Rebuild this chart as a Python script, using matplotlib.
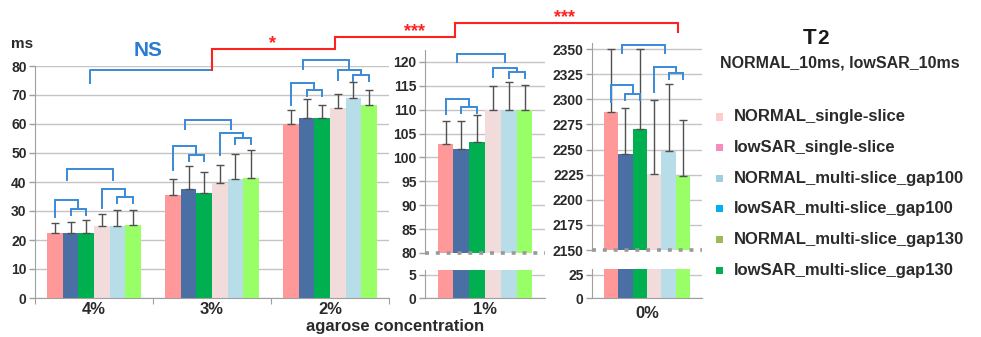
import numpy as np
import matplotlib
matplotlib.use('Agg')
import matplotlib.pyplot as plt
from matplotlib.patches import Rectangle

plt.rcParams['font.family'] = ['Liberation Sans', 'DejaVu Sans']
plt.rcParams['font.weight'] = 'bold'

# --- data ---
groups_left = ['4%', '3%', '2%']
means_left = [[22.3, 22.5, 22.3, 25.0, 25.0, 25.3],
              [35.5, 37.7, 36.2, 39.5, 41.0, 41.3],
              [60.0, 62.0, 62.0, 65.5, 69.0, 66.5]]
tops_left = [[25.8, 26.2, 26.8, 29.0, 30.3, 30.3],
             [41.0, 45.5, 43.3, 46.0, 49.8, 51.0],
             [64.8, 68.5, 66.5, 70.5, 74.5, 71.8]]
means_1 = [102.8, 101.8, 103.2, 110.0, 110.0, 110.0]
tops_1 = [107.6, 107.6, 108.8, 115.0, 115.8, 115.2]
means_0 = [2287, 2246, 2270, 2226, 2249, 2224]
tops_0 = [2350, 2291, 2350, 2299, 2315, 2279]

# bracket levels per group: small L, mid L, mid L leg, small R, mid R, mid R leg, top, top leg
brackets_left = [[30.7, 33.8, 27.9, 34.8, 37.6, 31.0, 44.5, 40.7],
                 [49.3, 52.4, 44.1, 55.2, 56.9, 49.3, 61.4, 58.3],
                 [71.7, 74.1, 66.6, 76.9, 78.6, 75.2, 82.1, 79.0]]
brackets_1 = [110.5, 112.2, 109.1, 117.9, 118.7, 116.8, 121.7, 120.0]
brackets_0 = [2305, 2314, 2297, 2326, 2332, 2307, 2354, 2346]

bar_colors = ['#ff9999', '#4a6fa5', '#00b050', '#f2dcdb', '#b7dde8', '#99ff66']
legend_labels = ['NORMAL_single-slice', 'lowSAR_single-slice',
                 'NORMAL_multi-slice_gap100', 'lowSAR_multi-slice_gap100',
                 'NORMAL_multi-slice_gap130', 'lowSAR_multi-slice_gap130']
legend_colors = ['#ffcccc', '#f58cbc', '#9ccfe0', '#00b0f0', '#9bbb59', '#00b050']

TXT = '#2a2a2a'
GRID = '#c4c4c4'
SPINE = '#a0a0a0'
BLUE = '#3a8ad8'
RED = '#ff2020'

W, H = 981, 337
fig = plt.figure(figsize=(W / 100, H / 100), dpi=100)


def rect(x0, ytop, x1, ybot):
    return [x0 / W, 1 - ybot / H, (x1 - x0) / W, (ybot - ytop) / H]


GW = 0.79
BW = GW / 6
offs = (np.arange(6) - 2.5) * BW


def style(ax, ticks, ylim, skip_first_grid=False):
    ax.set_ylim(*ylim)
    ax.set_yticks(ticks)
    for t in ticks[1 if skip_first_grid else 0:]:
        ax.axhline(t, color=GRID, lw=1, zorder=0)
    for s in ['top', 'right']:
        ax.spines[s].set_visible(False)
    for s in ['left', 'bottom']:
        ax.spines[s].set_color(SPINE)
    ax.tick_params(axis='y', colors=SPINE, labelcolor=TXT, labelsize=10, length=4, width=1, pad=2)
    ax.tick_params(axis='x', colors=SPINE, labelcolor=TXT, labelsize=12, length=0)


def broken(ax):
    # dotted break line along the bottom of the upper part
    ax.spines['bottom'].set_visible(False)
    ax.axhline(ax.get_ylim()[0], color='#999999', lw=2.6, ls=(0, (1.1, 1.9)),
               clip_on=False, zorder=5, dash_capstyle='butt')


def draw_bars(ax, centers, means, tops, draw_err=True):
    for c, m, tp in zip(centers, means, tops):
        xs = c + offs
        ax.bar(xs, m, width=BW, color=bar_colors, zorder=2)
        if draw_err:
            err = np.array(tp) - np.array(m)
            ax.errorbar(xs, m, yerr=[np.zeros(6), err], fmt='none',
                        ecolor='#505050', elinewidth=1, capsize=3, capthick=1, zorder=3)


def draw_brackets(ax, c, lv, leg):
    x = c + offs
    sL, mL, laL, sR, mR, laR, t, tb = lv
    kw = dict(color=BLUE, lw=1.4, clip_on=False, zorder=4, solid_joinstyle='miter')
    ax.plot([x[1], x[1], x[2], x[2]], [sL - leg, sL, sL, sL - leg], **kw)
    m12 = (x[1] + x[2]) / 2
    ax.plot([x[0], x[0], m12, m12], [laL, mL, mL, sL], **kw)
    ax.plot([x[4], x[4], x[5], x[5]], [sR - leg, sR, sR, sR - leg], **kw)
    m45 = (x[4] + x[5]) / 2
    ax.plot([x[3], x[3], m45, m45], [laR, mR, mR, sR], **kw)
    a = (x[0] + m12) / 2
    b = (x[3] + m45) / 2
    ax.plot([a, a, b, b], [tb, t, t, tb], **kw)
    return a, b


# --- left panel ---
axL = fig.add_axes(rect(35, 66, 389, 298))
style(axL, np.arange(0, 81, 10), (0, 80))
axL.set_xlim(-0.5, 2.5)
draw_bars(axL, range(3), means_left, tops_left)
axL.set_xticks([-0.5, 0.5, 1.5, 2.5])
axL.set_xticklabels([])
axL.tick_params(axis='x', length=4)
axL.set_xticks(range(3), minor=True)
axL.set_xticklabels(groups_left, minor=True)
axL.tick_params(axis='x', which='minor', length=0, labelsize=12, labelcolor=TXT, pad=3)
tops_mid = []
for i in range(3):
    tops_mid.append(draw_brackets(axL, i, brackets_left[i], 2.0))

# --- middle panel (1%) ---
axMt = fig.add_axes(rect(425, 50, 545, 253))
style(axMt, np.arange(80, 121, 5), (80, 122.5), skip_first_grid=True)
axMt.set_xlim(-0.5, 0.5)
axMt.set_xticks([])
draw_bars(axMt, [0], [means_1], [tops_1])
broken(axMt)
draw_brackets(axMt, 0, brackets_1, 1.25)

axMb = fig.add_axes(rect(425, 270, 545, 298))
style(axMb, [0, 5], (0, 6))
axMb.set_xlim(-0.5, 0.5)
draw_bars(axMb, [0], [means_1], [tops_1], draw_err=False)
axMb.set_xticks([0])
axMb.set_xticklabels(['1%'])
axMb.tick_params(axis='x', pad=3)

# --- right panel (0%) ---
axRt = fig.add_axes(rect(592, 43, 702, 250))
style(axRt, np.arange(2150, 2351, 25), (2150, 2356), skip_first_grid=True)
axRt.set_xlim(-0.5, 0.5)
axRt.set_xticks([])
draw_bars(axRt, [0], [means_0], [tops_0])
broken(axRt)
draw_brackets(axRt, 0, brackets_0, 6)

axRb = fig.add_axes(rect(592, 269, 702, 298))
style(axRb, [0, 25], (0, 31))
axRb.set_xlim(-0.5, 0.5)
draw_bars(axRb, [0], [means_0], [tops_0], draw_err=False)
axRb.set_xticks([0])
axRb.set_xticklabels(['0%'])
axRb.tick_params(axis='x', pad=6)

# --- texts ---
fig.text(11 / W, 1 - 44 / H, 'ms', fontsize=11, color=TXT, va='center', ha='left')
fig.text(395 / W, 1 - 327 / H, 'agarose concentration', fontsize=12, color=TXT,
         va='center', ha='center')

# NS bracket and red significance steps (left-axis data coordinates)
x_ns = (tops_mid[0][0] + tops_mid[0][1]) / 2
axL.plot([x_ns, x_ns, 1.0], [74.1, 78.6, 78.6], color=BLUE, lw=1.4, clip_on=False)
axL.text(0.46, 85.5, 'NS', color='#2b7bd0', fontsize=15, ha='center', va='center')
axL.plot([1.0, 1.0, 2.04, 2.04, 3.06, 3.06, 4.95, 4.95],
         [78.6, 85.9, 85.9, 90.0, 90.0, 94.8, 94.8, 91.7],
         color=RED, lw=1.5, clip_on=False, solid_joinstyle='miter')
axL.text(1.51, 87.6, '*', color=RED, fontsize=13, ha='center', va='center')
axL.text(2.72, 91.8, '***', color=RED, fontsize=13, ha='center', va='center')
axL.text(3.99, 96.6, '***', color=RED, fontsize=13, ha='center', va='center')

# legend block
fig.text(810 / W, 1 - 38 / H, 'T', fontsize=16, color='#1a1a1a', ha='center', va='center')
fig.text(823 / W, 1 - 39 / H, '2', fontsize=15, color='#1a1a1a', ha='center', va='center')
fig.text(840 / W, 1 - 63 / H, 'NORMAL_10ms, lowSAR_10ms', fontsize=11.5, color=TXT,
         ha='center', va='center')
for i, (lab, col) in enumerate(zip(legend_labels, legend_colors)):
    yc = 117 + 30.6 * i
    fig.add_artist(Rectangle((716 / W, 1 - (yc + 3.5) / H), 7 / W, 7 / H,
                             transform=fig.transFigure, color=col, lw=0))
    fig.text(734 / W, 1 - yc / H, lab, fontsize=12, color=TXT, ha='left', va='center')

fig.savefig('out.png', dpi=100)
